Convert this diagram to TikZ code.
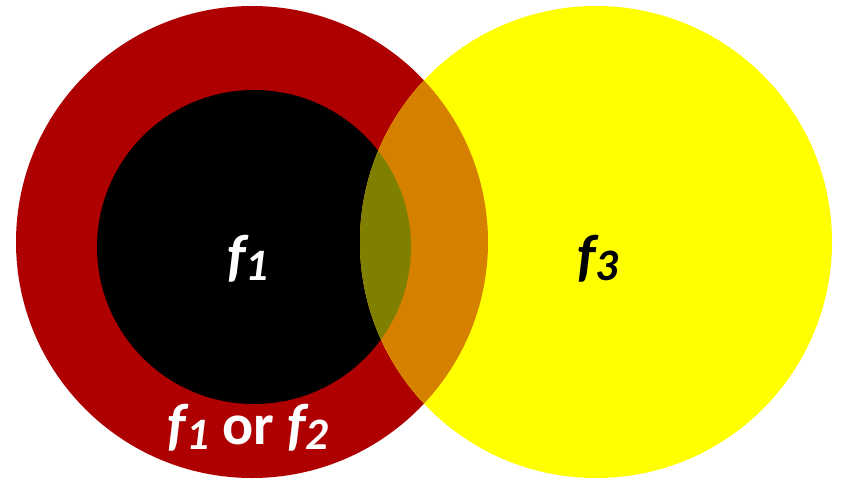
\documentclass[tikz,border=0pt]{standalone}
\usepackage{fontspec}
\setmainfont{Carlito}
\definecolor{cred}{RGB}{174,0,0}
\definecolor{cyel}{RGB}{255,255,0}
\definecolor{corange}{RGB}{214,128,0}
\definecolor{colive}{RGB}{128,128,0}
\newcommand{\fsym}[1]{\textbf{\textit{f}}\kern-3pt\raisebox{-0.1em}{\fontsize{45}{45}\selectfont\textbf{\textit{#1}}}}
\begin{document}
\begin{tikzpicture}[x=1pt,y=-1pt,
  lbl/.style={font=\fontsize{58}{58}\selectfont\bfseries, inner sep=0pt, anchor=base}]
\useasboundingbox (0,0) rectangle (841,482);
\fill[white] (0,0) rectangle (841,482);
\coordinate (cr) at (252,242);
\coordinate (cb) at (254,247);
\coordinate (cy) at (596,242);
\fill[cred] (cr) circle[radius=236];
\fill[black] (cb) circle[radius=157];
\fill[cyel] (cy) circle[radius=236];
\begin{scope}
  \clip (cy) circle[radius=236];
  \fill[corange] (cr) circle[radius=236];
  \fill[colive] (cb) circle[radius=157];
\end{scope}
\node[lbl, text=white] (f1) at (248,275) {\fsym{1}};
\node[lbl, text=black] (f3) at (598,275) {\fsym{3}};
\node[lbl, text=white] (f12) at (248,444) {\fsym{1} or \fsym{2}};
\end{tikzpicture}
\end{document}
